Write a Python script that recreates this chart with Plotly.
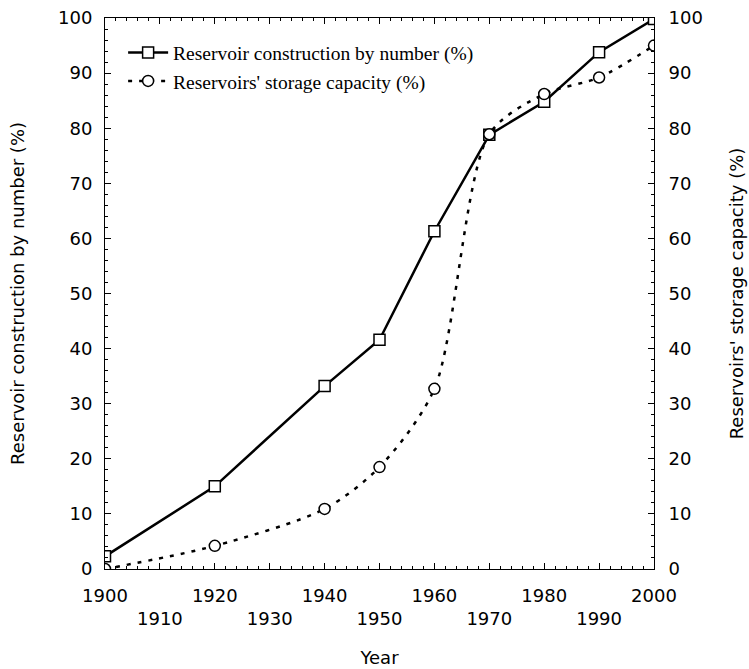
import plotly.graph_objects as go

years = [1900, 1920, 1940, 1950, 1960, 1970, 1980, 1990, 2000]
construction_pct = [2.3, 15.0, 33.2, 41.6, 61.3, 78.8, 84.8, 93.8, 99.8]
capacity_pct = [0.0, 4.2, 10.9, 18.5, 32.7, 78.9, 86.2, 89.2, 95.0]

decade_ticks = list(range(1900, 2001, 10))
decade_text = [str(v) if (v // 10) % 2 == 0 else "<br>" + str(v) for v in decade_ticks]
y_ticks = list(range(0, 101, 10))

name_a = "Reservoir construction by number (%)"
name_b = "Reservoirs' storage capacity (%)"

fig = go.Figure()
fig.add_trace(go.Scatter(
    x=years, y=construction_pct, name=name_a, mode="lines+markers",
    line=dict(color="black", width=2.5),
    marker=dict(symbol="square", size=11, color="white", line=dict(color="black", width=1.5)),
))
fig.add_trace(go.Scatter(
    x=years, y=capacity_pct, name=name_b, mode="lines+markers", yaxis="y2",
    line=dict(color="black", width=2.5, dash="4px,7px", shape="spline", smoothing=0.8),
    marker=dict(symbol="circle", size=11, color="white", line=dict(color="black", width=1.5)),
))

axis_font = dict(family="DejaVu Sans, Arial, sans-serif", size=18, color="black")

fig.update_layout(
    width=749, height=669,
    margin=dict(l=105, r=95, t=18, b=100),
    paper_bgcolor="white", plot_bgcolor="white",
    font=axis_font,
    showlegend=True,
    legend=dict(x=0.033, y=0.972, xanchor="left", yanchor="top",
                bgcolor="rgba(0,0,0,0)", itemwidth=40, tracegroupgap=0,
                font=dict(family="Liberation Serif, Times New Roman, serif", size=19.5, color="black")),
    xaxis=dict(
        range=[1900, 2000], tickmode="array", tickvals=decade_ticks, ticktext=decade_text,
        ticks="inside", ticklen=6, tickwidth=1, tickcolor="black",
        minor=dict(dtick=2, ticks="inside", ticklen=3, tickcolor="black"),
        showline=True, linecolor="black", linewidth=1, mirror="ticks",
        showgrid=False, zeroline=False, tickfont=axis_font, ticklabelstandoff=10,
        automargin=False,
        title=dict(text="Year", font=axis_font, standoff=23),
    ),
    yaxis=dict(
        range=[0, 100], tickmode="array", tickvals=y_ticks,
        ticks="inside", ticklen=6, tickwidth=1, tickcolor="black",
        minor=dict(dtick=2, ticks="inside", ticklen=3, tickcolor="black"),
        showline=True, linecolor="black", linewidth=1,
        showgrid=False, zeroline=False, tickfont=axis_font, ticklabelstandoff=8,
        automargin=False,
        title=dict(text=name_a, font=axis_font, standoff=28),
    ),
    yaxis2=dict(
        range=[0, 100], tickmode="array", tickvals=y_ticks, overlaying="y", side="right",
        ticks="inside", ticklen=6, tickwidth=1, tickcolor="black",
        minor=dict(dtick=2, ticks="inside", ticklen=3, tickcolor="black"),
        showline=True, linecolor="black", linewidth=1,
        showgrid=False, zeroline=False, tickfont=axis_font, ticklabelstandoff=10,
        automargin=False,
        title=dict(text=name_b, font=axis_font, standoff=28),
    ),
)

fig.write_html("out.html")
